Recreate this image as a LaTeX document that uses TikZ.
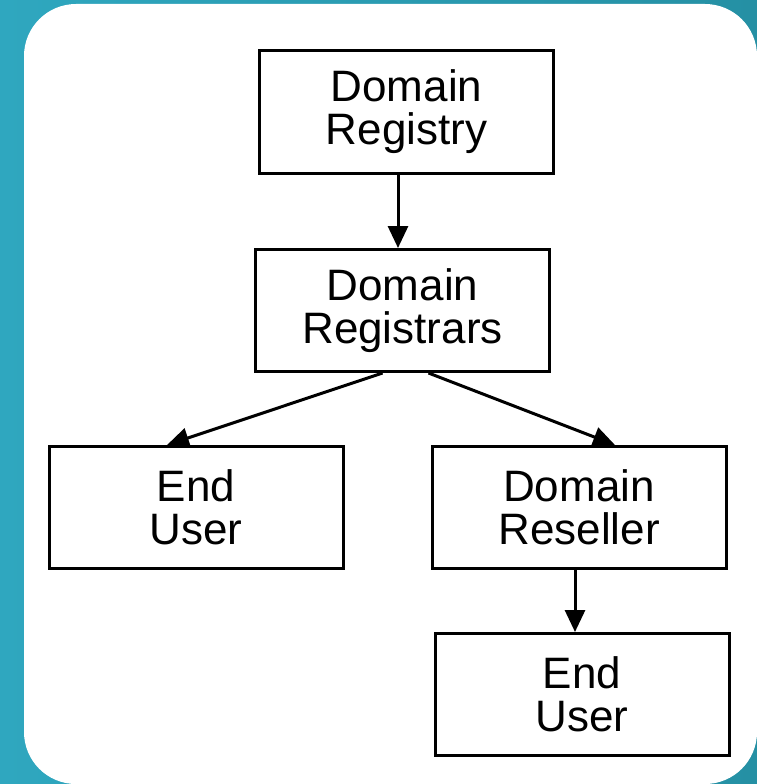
\documentclass[tikz,border=0pt]{standalone}
\usepackage{fontspec}
\setmainfont{Liberation Sans}
\usetikzlibrary{arrows.meta}
\definecolor{tealL}{HTML}{2FA7BF}
\definecolor{tealR}{HTML}{2590A4}
\tikzset{
  box/.style={draw=black, line width=3pt, fill=white, minimum width=294pt,
    minimum height=122pt, inner sep=0pt, align=center,
    font=\fontsize{44}{43}\selectfont},
  arr/.style={line width=3pt, -{Triangle[length=22pt,width=20pt]}}
}
\begin{document}
\begin{tikzpicture}[x=1pt,y=-1pt]
  % backdrop and white card
  \shade[left color=tealL, right color=tealR] (0,0) rectangle (757,784);
  \useasboundingbox (0,0) rectangle (757,784);
  \fill[white, rounded corners=52pt] (24,4) rectangle (757,784);

  % boxes
  \node[box] (reg)   at (406.5,112) {Domain\\Registry};
  \node[box] (rars)  at (402.5,310.5) {Domain\\Registrars};
  \node[box] (user1) at (196,507.5) {End\\User};
  \node[box] (resel) at (579,507.5) {Domain\\Reseller};
  \node[box] (user2) at (582,694.5) {End\\User};

  % connectors
  \draw[arr] ([xshift=-8.5pt]reg.south) -- ([xshift=-8.5pt]reg.south |- rars.north);
  \draw[arr] ([xshift=-20pt]rars.south) -- ([xshift=-29pt]user1.north);
  \draw[arr] ([xshift=26pt]rars.south) -- ([xshift=36pt]resel.north);
  \draw[arr] ([xshift=-4pt]resel.south) -- ([xshift=-4pt]resel.south |- user2.north);
\end{tikzpicture}
\end{document}
